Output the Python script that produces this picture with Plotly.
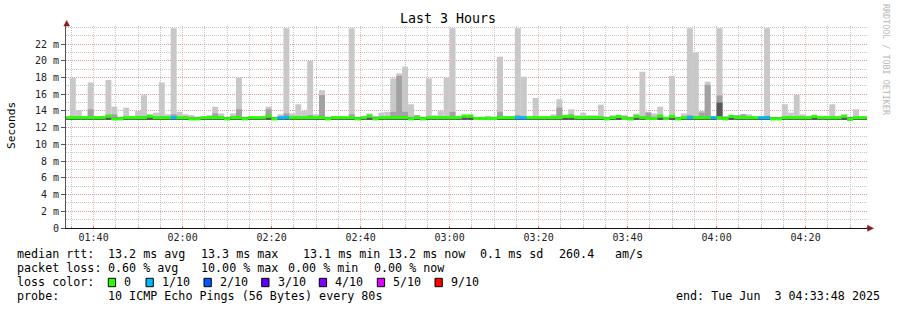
import plotly.graph_objects as go
import pandas as pd

# ---------------- data ----------------
step_start = "2025-06-03 01:33:20"   # first 80 s step partly visible
step_seconds = 80
x_start = "2025-06-03 01:33:48"
x_end = "2025-06-03 04:33:48"

# top of smoke (max ping), ms
smoke_max = [
    13.2, 17.95, 14.1, 13.4, 17.4,
    13.4, 13.4, 17.7, 14.5, 13.2, 14.4, 13.3, 14.0, 15.9, 13.5,
    13.8, 17.4, 13.6, 23.9, 13.9, 13.6, 13.5, 13.3, 13.3, 13.5,
    14.5, 13.7, 13.2, 13.7, 18.0, 13.3, 13.3, 13.3, 13.3, 14.5,
    13.2, 13.6, 23.9, 13.7, 14.8, 14.0, 20.0, 13.6, 16.5, 13.2,
    13.4, 13.3, 13.3, 23.9, 13.2, 13.3, 13.7, 13.4, 13.8, 13.9,
    17.9, 18.5, 19.3, 14.8, 13.5, 13.2, 17.9, 13.5, 14.0, 18.0,
    23.9, 13.3, 13.4, 13.4, 13.2, 13.2, 13.4, 13.2, 20.5, 13.3,
    13.3, 23.9, 18.1, 13.3, 15.55, 13.3, 13.3, 13.6, 15.4, 13.5,
    14.2, 13.5, 13.8, 13.5, 13.5, 14.75, 13.3, 13.5, 13.4, 13.5,
    13.2, 13.7, 18.7, 13.9, 13.7, 14.5, 13.3, 18.2, 13.2, 13.7,
    23.9, 21.0, 14.0, 17.5, 13.3, 23.9, 13.4, 13.5, 13.4, 13.6,
    13.6, 13.3, 13.3, 23.9, 13.2, 13.1, 14.8, 13.8, 15.95, 13.6,
    13.3, 13.4, 13.3, 13.4, 14.8, 13.3, 13.4, 13.2, 14.2, 13.3,
    13.3,
]

# top of the darker inner smoke band, ms
smoke_mid = [
    13.3, 13.4, 13.3, 13.3, 14.2,
    13.3, 13.3, 13.4, 13.6, 13.3, 13.3, 13.3, 13.3, 13.4, 13.4,
    13.3, 13.4, 13.3, 13.6, 13.3, 13.3, 13.3, 13.3, 13.3, 13.3,
    13.7, 13.3, 13.3, 13.3, 14.2, 13.3, 13.3, 13.3, 13.3, 14.2,
    13.3, 13.3, 13.7, 13.3, 13.4, 13.3, 13.5, 13.3, 15.9, 13.3,
    13.3, 13.3, 13.3, 13.6, 13.3, 13.3, 13.3, 13.3, 13.3, 13.3,
    13.9, 18.2, 13.9, 13.3, 13.5, 13.3, 13.3, 13.3, 13.3, 13.3,
    13.9, 13.3, 13.3, 13.3, 13.3, 13.3, 13.3, 13.3, 13.9, 13.3,
    13.3, 13.5, 13.3, 13.3, 13.3, 13.3, 13.3, 13.3, 14.4, 13.3,
    13.6, 13.3, 13.3, 13.3, 13.3, 13.3, 13.3, 13.3, 13.3, 13.4,
    13.3, 13.3, 13.4, 13.8, 13.3, 13.3, 13.3, 13.4, 13.3, 13.3,
    13.5, 13.4, 13.8, 17.1, 13.3, 15.85, 13.3, 13.3, 13.5, 13.6,
    13.3, 13.3, 13.3, 13.4, 13.3, 13.3, 13.3, 13.3, 13.3, 13.3,
    13.3, 13.4, 13.3, 13.3, 13.3, 13.3, 13.3, 13.3, 13.3, 13.3,
    13.3,
]

# top of the darkest smoke band, ms
smoke_dark = [
    13.2, 13.2, 13.2, 13.2, 13.2,
    13.2, 13.2, 13.2, 13.2, 13.2, 13.2, 13.2, 13.2, 13.2, 13.2,
    13.2, 13.2, 13.2, 13.2, 13.2, 13.2, 13.2, 13.2, 13.2, 13.2,
    13.2, 13.2, 13.2, 13.2, 13.2, 13.2, 13.2, 13.2, 13.2, 13.2,
    13.2, 13.2, 13.2, 13.2, 13.2, 13.2, 13.2, 13.2, 13.2, 13.2,
    13.2, 13.2, 13.2, 13.2, 13.2, 13.2, 13.2, 13.2, 13.2, 13.2,
    13.2, 13.2, 13.2, 13.2, 13.2, 13.2, 13.2, 13.2, 13.2, 13.2,
    13.2, 13.2, 13.2, 13.2, 13.2, 13.2, 13.2, 13.2, 13.2, 13.2,
    13.2, 13.2, 13.2, 13.2, 13.2, 13.2, 13.2, 13.2, 13.2, 13.2,
    13.2, 13.2, 13.2, 13.2, 13.2, 13.2, 13.2, 13.2, 13.2, 13.2,
    13.2, 13.2, 13.2, 13.2, 13.2, 13.2, 13.2, 13.2, 13.2, 13.2,
    13.2, 13.2, 13.2, 13.2, 13.2, 15.0, 13.2, 13.2, 13.2, 13.2,
    13.2, 13.2, 13.2, 13.2, 13.2, 13.2, 13.2, 13.2, 13.2, 13.2,
    13.2, 13.2, 13.2, 13.2, 13.2, 13.2, 13.2, 13.2, 13.2, 13.2,
    13.2,
]

# bottom of smoke (min ping), ms
smoke_min = [
    13.0, 13.0, 13.0, 13.0, 13.0,
    13.0, 13.0, 13.0, 12.95, 12.95, 13.0, 13.0, 13.0, 13.0, 13.0,
    13.0, 13.0, 13.0, 13.0, 13.0, 13.0, 12.95, 12.95, 13.0, 13.0,
    13.0, 13.0, 12.95, 13.0, 13.0, 12.95, 13.0, 13.0, 13.0, 13.0,
    12.95, 13.0, 13.0, 13.0, 13.0, 13.0, 13.0, 13.0, 13.0, 12.95,
    13.0, 13.0, 13.0, 13.0, 12.95, 13.0, 13.0, 12.95, 13.0, 13.0,
    13.0, 13.0, 13.0, 12.95, 13.0, 12.95, 13.0, 13.0, 13.0, 13.0,
    13.0, 13.0, 13.0, 13.0, 13.0, 13.0, 13.0, 13.0, 13.0, 13.0,
    13.0, 13.0, 13.0, 13.0, 13.0, 13.0, 13.0, 13.0, 13.0, 13.0,
    13.0, 13.0, 13.0, 13.0, 13.0, 13.0, 12.95, 13.0, 13.0, 13.0,
    12.95, 13.0, 13.0, 13.0, 13.0, 13.0, 13.0, 13.0, 12.95, 13.0,
    13.0, 13.0, 13.0, 13.0, 13.0, 13.0, 12.95, 13.0, 13.0, 13.0,
    13.0, 13.0, 13.0, 13.0, 12.95, 12.95, 13.0, 13.0, 13.0, 13.0,
    13.0, 13.0, 13.0, 13.0, 13.0, 13.0, 13.0, 12.9, 13.0, 13.0,
    13.0,
]

# median rtt per step, ms
median_rtt = [
    13.2, 13.2, 13.2, 13.2, 13.2,
    13.2, 13.2, 13.4, 13.05, 13.05, 13.2, 13.2, 13.2, 13.2, 13.4,
    13.2, 13.2, 13.2, 13.2, 13.2, 13.2, 13.05, 13.05, 13.2, 13.2,
    13.2, 13.2, 13.05, 13.2, 13.2, 13.05, 13.2, 13.2, 13.2, 13.4,
    13.05, 13.2, 13.2, 13.2, 13.2, 13.2, 13.2, 13.2, 13.2, 13.05,
    13.2, 13.2, 13.2, 13.2, 13.05, 13.2, 13.4, 13.05, 13.2, 13.2,
    13.2, 13.2, 13.2, 13.05, 13.2, 13.05, 13.2, 13.2, 13.2, 13.2,
    13.2, 13.2, 13.4, 13.4, 13.1, 13.1, 13.1, 13.1, 13.2, 13.2,
    13.2, 13.2, 13.2, 13.2, 13.2, 13.2, 13.2, 13.2, 13.2, 13.35,
    13.35, 13.2, 13.2, 13.2, 13.2, 13.2, 13.05, 13.2, 13.35, 13.1,
    13.05, 13.35, 13.2, 13.1, 13.1, 13.4, 13.1, 13.35, 13.05, 13.2,
    13.2, 13.2, 13.2, 13.2, 13.2, 13.2, 13.05, 13.35, 13.2, 13.2,
    13.2, 13.2, 13.2, 13.2, 13.05, 13.05, 13.2, 13.2, 13.2, 13.2,
    13.2, 13.35, 13.2, 13.2, 13.2, 13.2, 13.4, 13.0, 13.2, 13.2,
    13.2,
]

# packet loss per step (lost pings out of 10)
loss_tenths = [
    0, 0, 0, 0, 0,
    0, 0, 0, 0, 0, 0, 0, 0, 0, 0,
    0, 0, 0, 1, 0, 0, 0, 0, 0, 0,
    0, 0, 0, 0, 0, 0, 0, 0, 0, 0,
    0, 1, 1, 0, 0, 0, 0, 0, 0, 0,
    0, 0, 0, 0, 0, 0, 0, 0, 0, 0,
    0, 0, 0, 0, 0, 0, 0, 0, 0, 0,
    0, 0, 0, 0, 0, 0, 0, 0, 0, 0,
    0, 1, 1, 0, 0, 0, 0, 0, 0, 0,
    0, 0, 0, 0, 0, 0, 0, 0, 0, 0,
    0, 0, 0, 0, 0, 0, 0, 0, 0, 0,
    1, 0, 0, 0, 1, 0, 0, 0, 0, 0,
    0, 0, 1, 1, 0, 0, 0, 0, 0, 0,
    0, 0, 0, 0, 0, 0, 0, 0, 0, 0,
    0,
]

loss_levels = [0, 1, 2, 3, 4, 5, 9]
loss_labels = ["0", "1/10", "2/10", "3/10", "4/10", "5/10", "9/10"]
loss_colors = ["#26ff00", "#00b8ff", "#0059ff", "#5e00ff", "#7e00ff", "#dd00ff", "#ff0000"]

y_tick_vals = [0, 2, 4, 6, 8, 10, 12, 14, 16, 18, 20, 22]
y_tick_text = ["0", "2 m", "4 m", "6 m", "8 m", "10 m", "12 m", "14 m", "16 m",
               "18 m", "20 m", "22 m"]

title_text = "Last 3 Hours"
legend_rtt = [("median rtt:", 16), ("13.2 ms avg", 107.3), ("13.3 ms max", 200),
              ("13.1 ms min", 301.5), ("13.2 ms now", 386.7), ("0.1 ms sd", 479.3),
              ("260.4", 558.3), ("am/s", 614)]
legend_loss = [("packet loss:", 16), ("0.60 % avg", 107.3), ("10.00 % max", 200),
               ("0.00 % min", 286.7), ("0.00 % now", 372.7)]
probe_text = "10 ICMP Echo Pings (56 Bytes) every 80s"
end_text = "end: Tue Jun  3 04:33:48 2025"

# ---------------- layout geometry ----------------
W, H = 897, 310
ML, MR, MT, MB = 66, 30, 26, 82
PW = W - ML - MR
PH = H - MT - MB
Y_TOP = (H - MB - MT) / 8.36


def px(x):
    return (x - ML) / PW


def py(y):
    return (H - MB - y) / PH


MONO = "DejaVu Sans Mono"

n = len(smoke_max)
times = pd.date_range(step_start, periods=n, freq=f"{step_seconds}s") + pd.Timedelta(seconds=step_seconds / 2)
bw = step_seconds * 1000

fig = go.Figure()
fig.add_trace(go.Bar(x=times, base=smoke_min, y=[a - b for a, b in zip(smoke_max, smoke_min)],
                     width=bw, marker=dict(color="#c8c8c8", line=dict(width=0)), hoverinfo="skip"))
fig.add_trace(go.Bar(x=times, base=smoke_min, y=[a - b for a, b in zip(smoke_mid, smoke_min)],
                     width=bw, marker=dict(color="#a2a2a2", line=dict(width=0)), hoverinfo="skip"))
fig.add_trace(go.Bar(x=times, base=smoke_min, y=[a - b for a, b in zip(smoke_dark, smoke_min)],
                     width=bw, marker=dict(color="#585858", line=dict(width=0)), hoverinfo="skip"))
color_of = dict(zip(loss_levels, loss_colors))
fig.add_trace(go.Bar(x=times, base=[m - 0.18 for m in median_rtt], y=[0.36] * n,
                     width=bw, marker=dict(color=[color_of[l] for l in loss_tenths], line=dict(width=0)),
                     hoverinfo="skip"))

grid_major = "rgba(240,130,130,0.6)"
grid_minor = "rgba(180,180,180,0.75)"

fig.update_layout(
    width=W, height=H, margin=dict(l=ML, r=MR, t=MT, b=MB, pad=0),
    paper_bgcolor="white", plot_bgcolor="white",
    barmode="overlay", showlegend=False,
    xaxis=dict(
        type="date", range=[x_start, x_end], tick0="2025-06-03 00:00:00", dtick=20 * 60 * 1000,
        tickformat="%H:%M", showgrid=True, gridcolor=grid_major, griddash="1px,1px", gridwidth=1,
        minor=dict(dtick=5 * 60 * 1000, showgrid=True, gridcolor=grid_minor, griddash="1px,1px",
                   ticks="inside", ticklen=2, tickcolor="#e0a0a0"),
        ticks="inside", ticklen=2, tickcolor="#e06060",
        showline=True, linecolor="#111", linewidth=1, zeroline=False,
        tickfont=dict(family=MONO, size=10, color="#222"), fixedrange=True,
    ),
    yaxis=dict(
        range=[0, Y_TOP], tickmode="array", tickvals=y_tick_vals, ticktext=y_tick_text,
        showgrid=True, gridcolor=grid_major, griddash="1px,1px", gridwidth=1,
        minor=dict(tickmode="linear", tick0=0, dtick=1, showgrid=True, gridcolor=grid_minor,
                   griddash="1px,1px"),
        ticks="outside", ticklen=4, tickcolor="#555",
        showline=True, linecolor="#555", linewidth=1, zeroline=False,
        tickfont=dict(family=MONO, size=10, color="#222"), fixedrange=True,
    ),
)


def txt(x, y, s, size=11.7, anchor="left", color="#000", angle=0):
    return dict(x=px(x), y=py(y), xref="paper", yref="paper", text=s.replace(" ", "\u00a0"),
                showarrow=False, xanchor=anchor, yanchor="middle", borderpad=0,
                font=dict(family=MONO, size=size, color=color), textangle=angle)


ann = [
    txt(448, 19, title_text, size=13.3, anchor="center"),
    txt(11, 126, "Seconds", size=11.2, anchor="center", angle=-90),
    txt(886, 60, "RRDTOOL / TOBI OETIKER", size=8.4, anchor="center", color="#b8b8b8", angle=90),
]
for s, x in legend_rtt:
    ann.append(txt(x, 254.3, s))
for s, x in legend_loss:
    ann.append(txt(x, 268.3, s))
ann.append(txt(16, 282.3, "loss color:"))
box_x = [108.3, 146.0, 204.0, 261.7, 319.3, 377.3, 435.0]
shapes = []
for bx, lab, col in zip(box_x, loss_labels, loss_colors):
    shapes.append(dict(type="rect", xref="paper", yref="paper", x0=px(bx), x1=px(bx + 7.3),
                       y0=py(286.7), y1=py(278.3), fillcolor=col, line=dict(color="#000", width=1)))
    ann.append(txt(bx + 15, 282.3, lab))
ann.append(txt(16, 296, "probe:"))
ann.append(txt(107.3, 296, probe_text))
ann.append(txt(880.7, 296, end_text, anchor="right"))

# axis arrows
arrow_col = "#8b1a1a"
shapes.append(dict(type="path", xref="paper", yref="paper",
                   path=f"M {px(63.8)} {py(26)} L {px(66.7)} {py(20.5)} L {px(69.6)} {py(26)} Z",
                   fillcolor=arrow_col, line=dict(color=arrow_col, width=0.5)))
shapes.append(dict(type="path", xref="paper", yref="paper",
                   path=f"M {px(867.5)} {py(225.3)} L {px(873.5)} {py(228.3)} L {px(867.5)} {py(231.3)} Z",
                   fillcolor=arrow_col, line=dict(color=arrow_col, width=0.5)))
shapes.append(dict(type="line", xref="paper", yref="paper", x0=px(866.6), x1=px(868),
                   y0=py(228), y1=py(228), line=dict(color="#111", width=1)))

fig.update_layout(annotations=ann, shapes=shapes)
fig.write_html("out.html")
